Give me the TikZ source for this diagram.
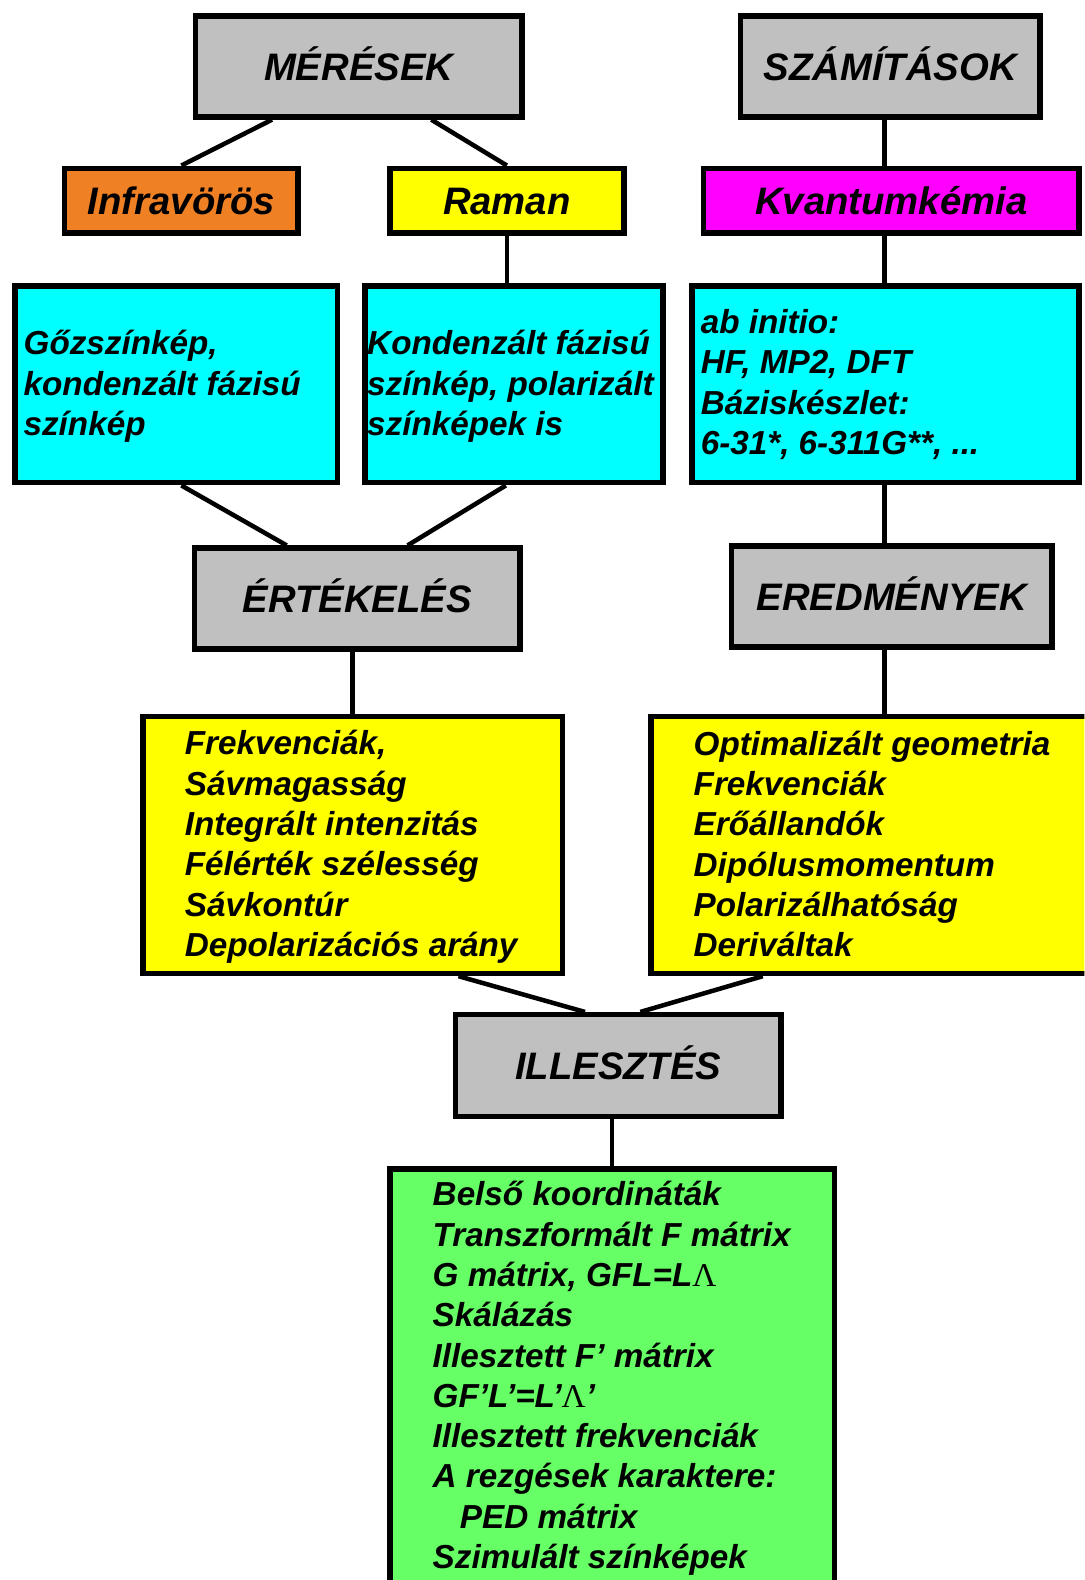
\documentclass[tikz,border=0pt]{standalone}
\usepackage{fontspec}
\setmainfont{Liberation Sans}
\newfontfamily\greekserif{Liberation Serif}
\usetikzlibrary{positioning}

\definecolor{boxgray}{RGB}{192,192,192}
\definecolor{boxorange}{RGB}{240,128,36}
\definecolor{boxyellow}{RGB}{255,255,0}
\definecolor{boxcyan}{RGB}{0,255,255}
\definecolor{boxmagenta}{RGB}{255,0,255}
\definecolor{boxgreen}{RGB}{102,255,102}

\newcommand{\Lmb}{{\greekserif\mdseries\upshape Λ}}

\begin{document}
\begin{tikzpicture}[x=1pt, y=-1pt,
titlebox/.style={draw, line width=5.5pt, fill=boxgray, inner sep=0pt, text height=27pt, text depth=0pt,
                 font=\fontsize{38}{46}\selectfont\bfseries\itshape},
listbox/.style={draw, line width=5.5pt, inner sep=0pt},
listtext/.style={inner sep=0pt, align=left, anchor=west, font=\fontsize{33}{40}\selectfont\bfseries\itshape},
link/.style={line width=4.5pt},
]

	\useasboundingbox (0,0) rectangle (1076,1568);
	\clip (0,0) rectangle (1076,1568);
	\coordinate (spine) at (878,0); % right hand column of links

	% top row
	\node[titlebox, minimum width=324, minimum height=100] (measure) at (356,66) {MÉRÉSEK};
	\node[titlebox, minimum width=297, minimum height=100] (calc) at (883.5,66) {SZÁMÍTÁSOK};

	\node[titlebox, fill=boxorange, minimum width=232, minimum height=64] (infrared) at (180,199) {Infravörös};
	\node[titlebox, fill=boxyellow, minimum width=232, minimum height=64] (raman) at (503,199) {Raman};
	\node[titlebox, fill=boxmagenta, minimum width=373, minimum height=64] (quantum) at (884.5,199) {Kvantumkémia};

	% spectra and methods
	\node[listbox, fill=boxcyan, minimum width=320, minimum height=195] (vapour) at (175,381.5) {};
	\node[listtext] (vapour-text) at ([xshift=11,yshift=-2]vapour.west) {Gőzszínkép,\\kondenzált fázisú\\színkép};
	\node[listbox, fill=boxcyan, minimum width=296, minimum height=195] (condensed) at (510,381.5) {};
	\node[listtext] (condensed-text) at ([xshift=5,yshift=-2]condensed.west) {Kondenzált fázisú\\színkép, polarizált\\színképek is};
	\node[listbox, fill=boxcyan, minimum width=384, minimum height=195] (abinitio) at (879,381.5) {};
	\node[listtext] (abinitio-text) at ([xshift=11]abinitio.west) {ab initio:\\HF, MP2, DFT\\Báziskészlet:\\6-31*, 6-311G**, ...};

	\node[titlebox, minimum width=323, minimum height=100] (evaluation) at (354.5,594) {ÉRTÉKELÉS};
	\node[titlebox, minimum width=318, minimum height=100] (results) at (885,592) {EREDMÉNYEK};

	% what comes out of the two branches
	\node[listbox, fill=boxyellow, minimum width=416, minimum height=255] (evallist) at (350,838.5) {};
	\node[listtext] (evallist-text) at ([xshift=44,yshift=-2]evallist.west) {Frekvenciák,\\Sávmagasság\\Integrált intenzitás\\Félérték szélesség\\Sávkontúr\\Depolarizációs arány};
	\node[listbox, fill=boxyellow, minimum width=454, minimum height=255] (reslist) at (873,838.5) {};
	\node[listtext] (reslist-text) at ([xshift=45,yshift=1]reslist.west) {Optimalizált geometria\\Frekvenciák\\Erőállandók\\Dipólusmomentum\\Polarizálhatóság\\Deriváltak};

	\node[titlebox, minimum width=323, minimum height=101] (fitting) at (613.5,1057.5) {ILLESZTÉS};

	\node[listbox, fill=boxgreen, minimum width=441, minimum height=416] (simlist) at (607.5,1368) {};
	\node[listtext] (simlist-text) at ([xshift=45]simlist.west) {Belső koordináták\\Transzformált F mátrix\\G mátrix, GFL=L\Lmb\\Skálázás\\Illesztett F’ mátrix\\GF’L’=L’\Lmb’\\Illesztett frekvenciák\\A rezgések karaktere:\\\hspace*{27pt}PED mátrix\\Szimulált színképek};

	% links
	\draw[link] ([xshift=-86]measure.south) -- (infrared.north);
	\draw[link] ([xshift=72]measure.south) -- (raman.north);
	\draw[link] (calc.south -| spine) -- (quantum.north -| spine);
	\draw[link] (raman.south) -- (raman.south |- condensed.north);
	\draw[link] (quantum.south -| spine) -- (abinitio.north -| spine);
	\draw[link] ([xshift=5]vapour.south) -- ([xshift=-70]evaluation.north);
	\draw[link] ([xshift=-8]condensed.south) -- ([xshift=50]evaluation.north);
	\draw[link] (abinitio.south -| spine) -- (results.north -| spine);
	\draw[link] (evallist.north |- evaluation.south) -- (evallist.north);
	\draw[link] (results.south -| spine) -- (reslist.north -| spine);
	\draw[link] ([xshift=105]evallist.south) -- ([xshift=-33]fitting.north);
	\draw[link] ([xshift=-116]reslist.south) -- ([xshift=22]fitting.north);
	\draw[link] (simlist.north |- fitting.south) -- (simlist.north);

\end{tikzpicture}
\end{document}
